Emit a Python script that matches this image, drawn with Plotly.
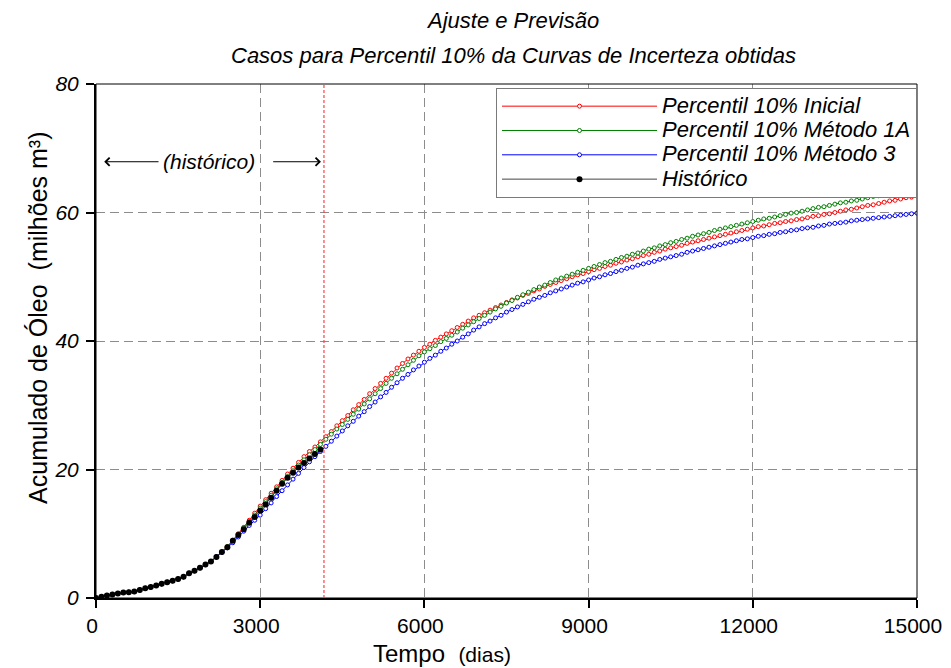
import plotly.graph_objects as go

# ---------------- data ----------------
DAYS = list(range(0, 15001, 100))          # forecast sampling (dias)
HIST_DAYS = list(range(0, 4101, 100))      # history sampling (dias)
HIST_END = 4165                            # end of history (dias)

P10_INICIAL = [
    0.0, 0.2, 0.4, 0.55, 0.7, 0.85, 0.9, 1.0, 1.25, 1.5,
    1.7, 1.95, 2.2, 2.45, 2.7, 2.95, 3.3, 3.85, 4.25, 4.7,
    5.2, 5.7, 6.4, 7.15, 8.0, 9.0, 10.0, 11.0, 12.1, 13.2,
    14.3, 15.3, 16.3, 17.3, 18.3, 19.3, 20.2, 21.1, 22.0, 22.8,
    23.5, 24.3, 25.1, 25.9, 26.8, 27.6, 28.4, 29.3, 30.1, 30.9,
    31.8, 32.6, 33.4, 34.2, 35.0, 35.8, 36.5, 37.2, 37.8, 38.4,
    39.0, 39.5, 40.1, 40.6, 41.1, 41.6, 42.1, 42.6, 43.1, 43.6,
    44.0, 44.4, 44.8, 45.2, 45.6, 46.0, 46.4, 46.7, 47.1, 47.4,
    47.8, 48.1, 48.5, 48.8, 49.1, 49.4, 49.7, 50.0, 50.3, 50.5,
    50.8, 51.1, 51.3, 51.6, 51.8, 52.1, 52.3, 52.6, 52.8, 53.1,
    53.3, 53.5, 53.8, 54.0, 54.3, 54.5, 54.7, 54.9, 55.2, 55.4,
    55.6, 55.8, 56.0, 56.2, 56.4, 56.6, 56.8, 57.0, 57.2, 57.4,
    57.6, 57.8, 57.9, 58.1, 58.3, 58.4, 58.6, 58.7, 58.9, 59.0,
    59.2, 59.4, 59.5, 59.7, 59.8, 60.0, 60.2, 60.4, 60.5, 60.7,
    60.9, 61.1, 61.2, 61.4, 61.6, 61.8, 61.9, 62.1, 62.3, 62.4,
    62.6,
]

P10_METODO_1A = [
    0.0, 0.2, 0.4, 0.55, 0.7, 0.85, 0.9, 1.0, 1.25, 1.5,
    1.7, 1.95, 2.2, 2.45, 2.7, 2.95, 3.3, 3.85, 4.25, 4.7,
    5.2, 5.7, 6.4, 7.15, 8.0, 8.9, 9.9, 10.9, 11.9, 12.9,
    14.0, 15.0, 16.0, 17.0, 18.0, 18.9, 19.8, 20.7, 21.5, 22.3,
    23.1, 23.9, 24.7, 25.5, 26.3, 27.0, 27.8, 28.6, 29.4, 30.2,
    31.0, 31.8, 32.6, 33.4, 34.2, 34.9, 35.6, 36.3, 37.0, 37.7,
    38.3, 38.8, 39.3, 39.9, 40.4, 40.9, 41.4, 42.0, 42.5, 43.0,
    43.5, 44.0, 44.5, 45.0, 45.4, 45.9, 46.3, 46.8, 47.2, 47.6,
    48.0, 48.4, 48.7, 49.1, 49.5, 49.8, 50.1, 50.4, 50.7, 51.0,
    51.3, 51.6, 51.9, 52.2, 52.4, 52.7, 53.0, 53.2, 53.5, 53.7,
    54.0, 54.3, 54.5, 54.8, 55.0, 55.3, 55.5, 55.8, 56.0, 56.3,
    56.5, 56.7, 56.9, 57.2, 57.4, 57.6, 57.8, 58.0, 58.2, 58.4,
    58.6, 58.8, 59.0, 59.1, 59.3, 59.5, 59.7, 59.9, 60.0, 60.2,
    60.4, 60.6, 60.8, 60.9, 61.1, 61.3, 61.5, 61.6, 61.8, 61.9,
    62.1, 62.3, 62.5, 62.6, 62.8, 63.0, 63.1, 63.3, 63.5, 63.6,
    63.8,
]

P10_METODO_3 = [
    0.0, 0.2, 0.4, 0.55, 0.7, 0.85, 0.9, 1.0, 1.25, 1.5,
    1.7, 1.95, 2.2, 2.45, 2.7, 2.95, 3.3, 3.85, 4.25, 4.7,
    5.2, 5.7, 6.4, 7.1, 7.8, 8.6, 9.5, 10.4, 11.3, 12.1,
    12.9, 13.9, 14.8, 15.8, 16.7, 17.6, 18.5, 19.4, 20.3, 21.2,
    22.0, 22.8, 23.6, 24.4, 25.2, 26.0, 26.8, 27.5, 28.3, 29.0,
    29.8, 30.5, 31.3, 32.0, 32.8, 33.5, 34.2, 34.8, 35.5, 36.1,
    36.7, 37.3, 37.8, 38.4, 38.9, 39.5, 40.0, 40.6, 41.1, 41.7,
    42.2, 42.7, 43.1, 43.6, 44.0, 44.5, 44.9, 45.3, 45.7, 46.1,
    46.5, 46.8, 47.1, 47.5, 47.8, 48.1, 48.4, 48.7, 49.0, 49.2,
    49.5, 49.8, 50.0, 50.3, 50.5, 50.8, 51.0, 51.3, 51.5, 51.8,
    52.0, 52.2, 52.4, 52.7, 52.9, 53.1, 53.3, 53.5, 53.8, 54.0,
    54.2, 54.4, 54.6, 54.8, 55.0, 55.2, 55.4, 55.6, 55.8, 55.9,
    56.1, 56.3, 56.4, 56.6, 56.7, 56.9, 57.0, 57.2, 57.3, 57.5,
    57.6, 57.7, 57.9, 58.0, 58.2, 58.3, 58.4, 58.5, 58.7, 58.8,
    58.9, 59.0, 59.1, 59.2, 59.3, 59.4, 59.5, 59.6, 59.7, 59.8,
    59.9,
]

HISTORICO = [
    0.0, 0.2, 0.4, 0.55, 0.7, 0.85, 0.9, 1.0, 1.25, 1.5,
    1.7, 1.95, 2.2, 2.45, 2.7, 2.95, 3.3, 3.85, 4.25, 4.7,
    5.2, 5.7, 6.4, 7.15, 7.9, 8.9, 9.8, 10.7, 11.7, 12.6,
    13.6, 14.6, 15.6, 16.7, 17.8, 18.7, 19.5, 20.3, 21.0, 21.7,
    22.4, 23.1,
]

SERIES_NAMES = ["Percentil 10% Inicial", "Percentil 10% Método 1A",
                "Percentil 10% Método 3", "Histórico"]
SERIES_COLORS = ["#ff0000", "#008000", "#0000ff", "#000000"]
X_TICKS = [0, 3000, 6000, 9000, 12000, 15000]
Y_TICKS = [0, 20, 40, 60, 80]

assert len(P10_INICIAL) == len(DAYS)
assert len(P10_METODO_1A) == len(DAYS)
assert len(P10_METODO_3) == len(DAYS)
assert len(HISTORICO) == len(HIST_DAYS)

FONT = "Liberation Sans, Arial, Helvetica, sans-serif"


def legend_label(text):
    # larger glyphs while the legend row pitch follows the (smaller) legend font size
    return "<span style='font-size:22px'>" + text + "</span>"


fig = go.Figure()
for name, vals, color in zip(SERIES_NAMES[:3],
                             [P10_INICIAL, P10_METODO_1A, P10_METODO_3],
                             SERIES_COLORS[:3]):
    fig.add_trace(go.Scatter(
        x=DAYS, y=vals, mode="lines+markers", name=legend_label(name),
        line=dict(color=color, width=1),
        marker=dict(symbol="circle", size=4, color="white",
                    line=dict(color=color, width=1)),
    ))

fig.add_trace(go.Scatter(
    x=HIST_DAYS, y=HISTORICO, mode="lines+markers", name=legend_label(SERIES_NAMES[3]),
    line=dict(color="#444444", width=1),
    marker=dict(symbol="circle", size=6, color=SERIES_COLORS[3]),
))

axis_common = dict(
    ticks="outside", ticklen=8, tickwidth=2, tickcolor="black",
    showline=True, linewidth=2, linecolor="black",
    showgrid=True, gridcolor="#8c8c8c", gridwidth=1, griddash="9px,5px",
    zeroline=False, automargin=False, ticklabeloverflow="allow",
)

# the page body has an 8px margin: the figure is sized so the plot lands where it should
fig.update_layout(
    width=943, height=660,
    margin=dict(l=88, r=34, t=76, b=70, autoexpand=False),
    plot_bgcolor="white", paper_bgcolor="white",
    font=dict(family=FONT, color="black"),
    showlegend=True,
    legend=dict(
        x=1, y=0.9922, xanchor="right", yanchor="top",
        bgcolor="white", bordercolor="#7a7a7a", borderwidth=1,
        font=dict(family=FONT, size=16.4, style="italic", color="black"),
        itemwidth=155, tracegroupgap=0,
    ),
    xaxis=dict(range=[0, 15000], tickvals=X_TICKS,
               ticktext=[str(v) for v in X_TICKS],
               ticklabelshift=-4,
               tickfont=dict(family=FONT, size=21, color="black"),
               **axis_common),
    yaxis=dict(range=[0, 80], tickvals=Y_TICKS,
               ticktext=[str(v) for v in Y_TICKS],
               ticklabelstandoff=3,
               tickfont=dict(family=FONT, size=21, style="italic", color="black"),
               **axis_common),
)

# thin frame on top / right
fig.add_shape(type="rect", xref="paper", yref="paper", x0=0, x1=1, y0=0, y1=1,
              line=dict(color="black", width=1), fillcolor="rgba(0,0,0,0)",
              layer="above")

# end of history marker
fig.add_shape(type="line", xref="x", yref="paper", x0=HIST_END, x1=HIST_END,
              y0=0, y1=1, line=dict(color="#ff4040", width=1.2, dash="3px,2px"),
              layer="above")

# titles
fig.add_annotation(text="Ajuste e Previsão", xref="paper", yref="paper",
                   x=0.507, y=1.1245, showarrow=False, xanchor="center", yanchor="middle",
                   font=dict(family=FONT, size=22, style="italic", color="black"))
fig.add_annotation(text="Casos para Percentil 10% da Curvas de Incerteza obtidas",
                   xref="paper", yref="paper", x=0.509, y=1.0564, showarrow=False,
                   xanchor="center", yanchor="middle",
                   font=dict(family=FONT, size=22, style="italic", color="black"))

# axis titles
fig.add_annotation(text="Acumulado de Óleo  (milhões m³)", xref="paper", yref="paper",
                   x=-0.0706, y=0.545, showarrow=False, textangle=-90,
                   xanchor="center", yanchor="middle",
                   font=dict(family=FONT, size=25, color="black"))
fig.add_annotation(text="Tempo&nbsp; <span style='font-size:21px'>(dias)</span>",
                   xref="paper", yref="paper", x=0.4214, y=-0.108, showarrow=False,
                   xanchor="center", yanchor="middle",
                   font=dict(family=FONT, size=24, color="black"))

# "(histórico)" label with arrows
fig.add_annotation(text="(histórico)", x=2070, y=67.9, showarrow=False,
                   font=dict(family=FONT, size=21, style="italic", color="black"))
fig.add_annotation(text="", x=150, y=67.9, ax=1170, ay=67.9, axref="x", ayref="y",
                   showarrow=True, arrowhead=4, arrowsize=1.6, arrowwidth=1,
                   arrowcolor="black")
fig.add_annotation(text="", x=4110, y=67.9, ax=3210, ay=67.9, axref="x", ayref="y",
                   showarrow=True, arrowhead=4, arrowsize=1.6, arrowwidth=1,
                   arrowcolor="black")

fig.write_html("out.html")
